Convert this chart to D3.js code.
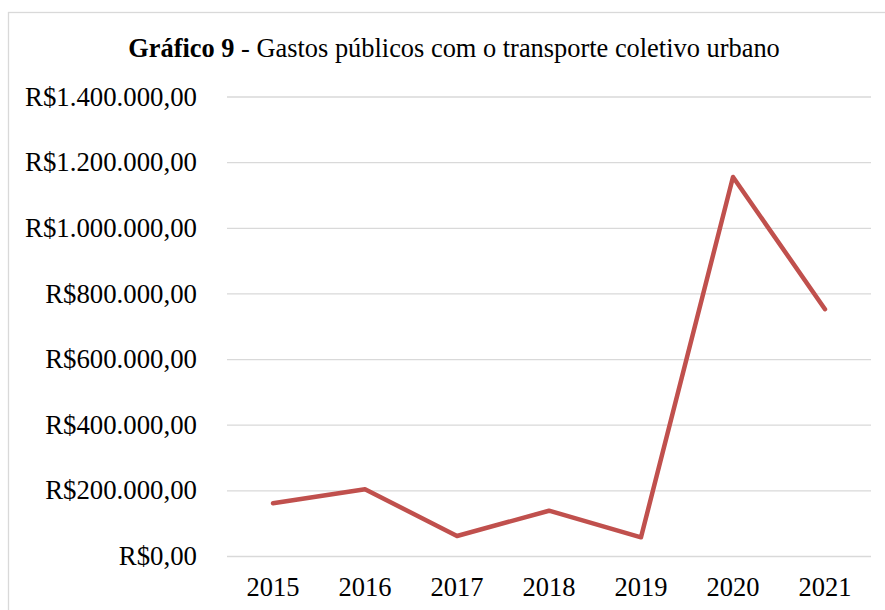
<!DOCTYPE html>
<html>
<head>
<meta charset="utf-8">
<script src="https://cdn.jsdelivr.net/npm/d3@7/dist/d3.min.js"></script>
<style>
html,body{margin:0;padding:0;background:#fff;}
svg{display:block;}
svg text{font-family:"Liberation Serif","Times New Roman",serif;}
</style>
</head>
<body>
<svg id="chart" width="885" height="610"></svg>
<script>
const years = ["2015","2016","2017","2018","2019","2020","2021"];
const gastos = [160700, 203400, 61000, 138000, 57000, 1154600, 752000];
const yTicks = [0, 200000, 400000, 600000, 800000, 1000000, 1200000, 1400000];
const titleBold = "Gráfico 9";
const titleRest = " - Gastos públicos com o transporte coletivo urbano";

const svg = d3.select("#chart");
const font = "Liberation Serif, Times New Roman, serif";

// outer border (extends beyond the photographed area on right/bottom)
svg.append("rect")
  .attr("x", 8.5).attr("y", 12.5)
  .attr("width", 900).attr("height", 620)
  .attr("fill", "#fff").attr("stroke", "#d9d9d9").attr("stroke-width", 1.3);

const x = d3.scaleBand().domain(years).range([227, 871]);
const y = d3.scaleLinear().domain([0, 1400000]).range([556, 96.5]);

const fmt = v => {
  const s = d3.format(",.2f")(v);
  return "R$" + s.replace(/,/g, "#").replace(".", ",").replace(/#/g, ".");
};

// gridlines + y labels
const yAxis = d3.axisLeft(y).tickValues(yTicks).tickSize(-(871 - 227)).tickFormat(fmt);
const gy = svg.append("g").attr("transform", "translate(227,0)").call(yAxis)
  .attr("font-family", null);
gy.select(".domain").remove();
gy.selectAll(".tick line").attr("stroke", "#d9d9d9").attr("stroke-width", 1.3);
gy.selectAll(".tick text")
  .style("font-family", font).style("font-size", "26.8px").attr("fill", "#000")
  .attr("x", -30).attr("dy", "0.32em");

// x axis labels
const xAxis = d3.axisBottom(x).tickSize(0).tickPadding(0);
const gx = svg.append("g").attr("transform", "translate(0,556)").call(xAxis)
  .attr("font-family", null);
gx.select(".domain").remove();
gx.selectAll(".tick text")
  .style("font-family", font).style("font-size", "26.5px").attr("fill", "#000")
  .attr("y", 40).attr("dy", 0);

// line
const line = d3.line()
  .x((d, i) => x(years[i]) + x.bandwidth() / 2)
  .y(d => y(d));
svg.append("path")
  .datum(gastos)
  .attr("d", line)
  .attr("fill", "none")
  .attr("stroke", "#c0504d")
  .attr("stroke-width", 4.5)
  .attr("stroke-linejoin", "round")
  .attr("stroke-linecap", "round");

// title
const t = svg.append("text")
  .attr("x", 454).attr("y", 57)
  .attr("text-anchor", "middle")
  .style("font-family", font).style("font-size", "26.4px").attr("fill", "#000");
t.append("tspan").style("font-weight", "bold").text(titleBold);
t.append("tspan").text(titleRest);
</script>
</body>
</html>
